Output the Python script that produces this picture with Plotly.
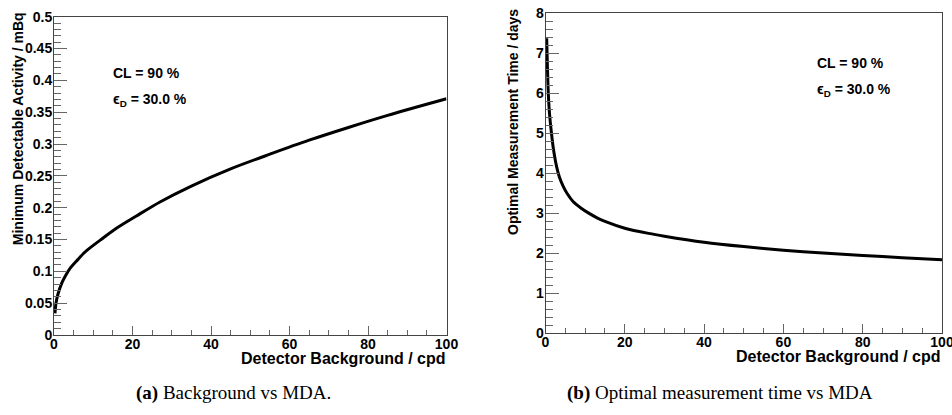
import plotly.graph_objects as go

# Left panel: background vs MDA
bkg_a = [0.25, 0.5, 1, 2, 3, 4, 6, 7.5, 9, 12, 16, 21, 27, 35, 45, 55, 65, 75, 85, 100]
mda_a = [0.034, 0.050, 0.064, 0.082, 0.094, 0.104, 0.118, 0.128, 0.136, 0.150, 0.168, 0.187,
         0.209, 0.234, 0.261, 0.284, 0.306, 0.326, 0.345, 0.371]

# Right panel: optimal measurement time
bkg_b = [0.3, 0.5, 0.7, 1.0, 1.5, 2.0, 2.8, 3.5, 4.5, 5.5, 7, 9, 11, 13, 15, 20, 26, 30,
         40, 50, 60, 70, 80, 90, 100]
time_b = [7.37, 6.6, 6.0, 5.5, 5.0, 4.6, 4.16, 3.9, 3.66, 3.48, 3.28, 3.12, 2.99, 2.88,
          2.79, 2.62, 2.49, 2.42, 2.27, 2.16, 2.07, 2.0, 1.94, 1.88, 1.83]

y_ticks_a = [0, 0.05, 0.1, 0.15, 0.2, 0.25, 0.3, 0.35, 0.4, 0.45, 0.5]
y_ticks_b = [0, 1, 2, 3, 4, 5, 6, 7, 8]
x_ticks = [0, 20, 40, 60, 80, 100]

W, H = 952, 415
FONT = "Liberation Sans"
LINE = "#444444"
TICK = "#666666"

fig = go.Figure()
fig.add_trace(go.Scatter(x=bkg_a, y=mda_a, mode="lines", line=dict(color="black", width=3, shape="spline", smoothing=0.8),
                         xaxis="x", yaxis="y", showlegend=False))
fig.add_trace(go.Scatter(x=bkg_b, y=time_b, mode="lines", line=dict(color="black", width=3, shape="spline", smoothing=0.8),
                         xaxis="x2", yaxis="y2", showlegend=False))

# pixel geometry
L1 = (54, 446.5, 16.7, 335)   # x0, x1, ytop, ybottom
L2 = (545.5, 942, 13, 333)

def xd(p):
    return [p[0] / W, p[1] / W]

def yd(p):
    return [1 - p[3] / H, 1 - p[2] / H]

tickfont = dict(family=FONT, size=14, color="black", weight=700)

def xaxis(dom, anchor):
    return dict(domain=dom, anchor=anchor, range=[0, 100], tickvals=x_ticks,
                ticktext=[f"<b>{v}</b>" for v in x_ticks], ticks="inside", ticklen=9, tickcolor=TICK,
                minor=dict(dtick=5, ticks="inside", ticklen=5, tickcolor=TICK),
                showline=True, linecolor=LINE, linewidth=1, mirror=True, showgrid=False,
                zeroline=False, tickfont=tickfont, automargin=False, fixedrange=True,
                ticklabeloverflow="allow", ticklabelstandoff=-4)

def yaxis(dom, anchor, rng, vals, texts, minor):
    return dict(domain=dom, anchor=anchor, range=rng, tickvals=vals, ticktext=[f"<b>{t}</b>" for t in texts],
                ticks="inside", ticklen=13, tickcolor=TICK,
                minor=dict(dtick=minor, ticks="inside", ticklen=7, tickcolor=TICK),
                showline=True, linecolor=LINE, linewidth=1, mirror=True, showgrid=False,
                zeroline=False, tickfont=tickfont, automargin=False, fixedrange=True,
                ticklabeloverflow="allow", ticklabelstandoff=-2)

fig.update_layout(
    width=W, height=H, margin=dict(l=0, r=0, t=0, b=0),
    paper_bgcolor="white", plot_bgcolor="white",
    xaxis=xaxis(xd(L1), "y"),
    yaxis=yaxis(yd(L1), "x", [0, 0.5], y_ticks_a, [f"{v:g}" for v in y_ticks_a], 0.01),
    xaxis2=xaxis(xd(L2), "y2"),
    yaxis2=yaxis(yd(L2), "x2", [0, 8], y_ticks_b, [str(v) for v in y_ticks_b], 0.2),
)

tfont = dict(family=FONT, size=14, color="black", weight=700)
xtfont = dict(family=FONT, size=16, color="black", weight=700)
ann = []
def px(x, y):
    return x / W, 1 - y / H

# axis titles
x, y = px(18, L1[2] - 6)
ann.append(dict(x=x, y=y, text="<b>Minimum Detectable Activity / mBq</b>", textangle=-90,
                xanchor="center", yanchor="top", font=tfont))
x, y = px(513, L2[2] - 6)
ann.append(dict(x=x, y=y, text="<b>Optimal Measurement Time / days</b>", textangle=-90,
                xanchor="center", yanchor="top", font=tfont))
x, y = px(L1[1], 358)
ann.append(dict(x=x, y=y, text="<b>Detector Background / cpd</b>", xanchor="right", yanchor="middle", font=xtfont))
x, y = px(L2[1], 356)
ann.append(dict(x=x, y=y, text="<b>Detector Background / cpd</b>", xanchor="right", yanchor="middle", font=xtfont))

# in-plot labels
for (lx, ly1, ly2) in [(110.7, 73, 100), (815, 63, 90)]:
    x, y = px(lx, ly1)
    ann.append(dict(x=x, y=y, text="<b>CL = 90 %</b>", xanchor="left", yanchor="middle", font=tfont))
    x, y = px(lx, ly2)
    ann.append(dict(x=x, y=y, text="ϵ<sub><b>D</b></sub><b> = 30.0 %</b>", xanchor="left", yanchor="middle", font=tfont))

# captions
cfont = dict(family="Liberation Serif", size=19, color="black")
x, y = px(233, 393)
ann.append(dict(x=x, y=y, text="<b>(a)</b> Background vs MDA.", xanchor="center", yanchor="middle", font=cfont))
x, y = px(720, 393)
ann.append(dict(x=x, y=y, text="<b>(b)</b> Optimal measurement time vs MDA", xanchor="center", yanchor="middle", font=cfont))

for a in ann:
    a.update(xref="paper", yref="paper", showarrow=False)
fig.update_layout(annotations=ann)

fig.write_html("out.html")
